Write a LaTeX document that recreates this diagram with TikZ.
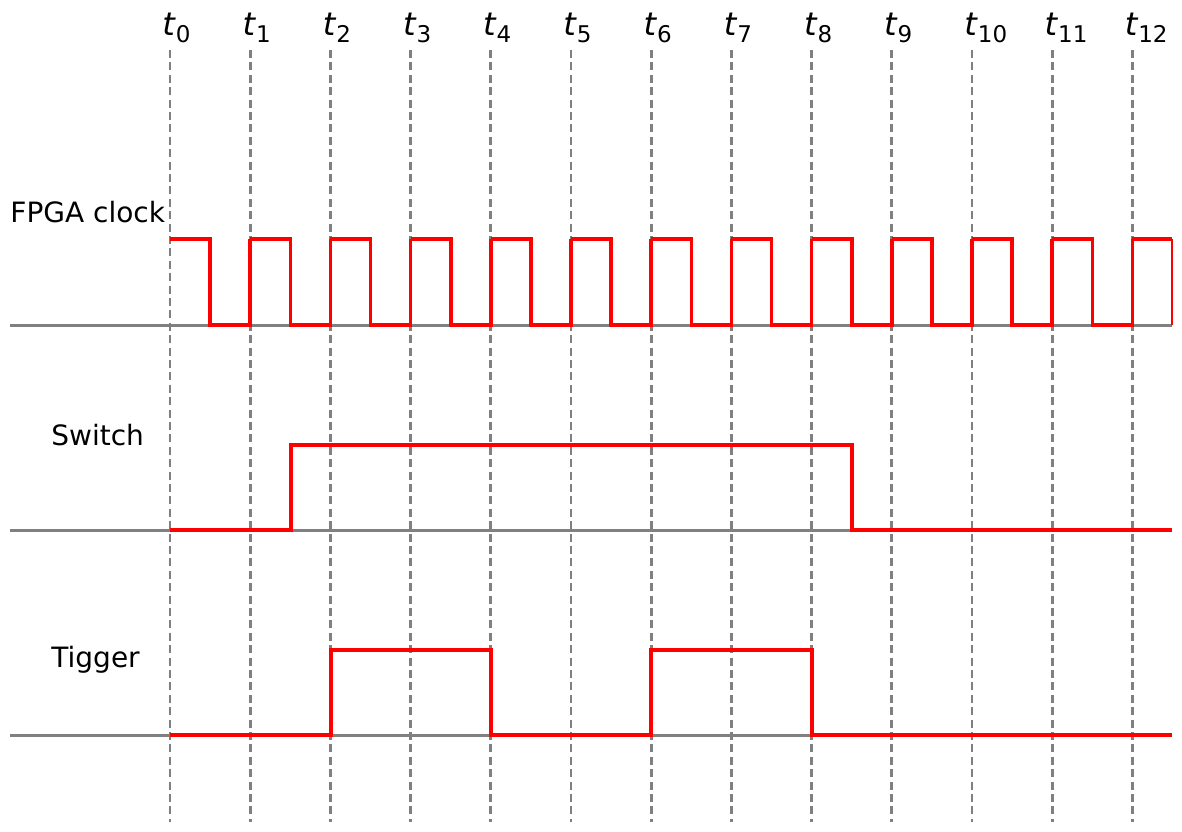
\documentclass[tikz,border=0pt]{standalone}
\usepackage{fontspec}
\setmainfont{DejaVu Sans}
\usetikzlibrary{positioning}
\definecolor{gridcol}{RGB}{128,128,128}
\definecolor{sigcol}{RGB}{255,0,0}

\begin{document}
\begin{tikzpicture}[
    x=0.5pt, y=-0.5pt,
    tick/.style={draw=gridcol, line width=1.4pt, dash pattern=on 4pt off 2.2pt},
    baseline line/.style={draw=gridcol, line width=1.5pt},
    signal/.style={draw=sigcol, line width=1.8pt, line join=miter},
    lbl/.style={inner sep=0pt, font=\fontsize{14}{17}\selectfont},
]
\useasboundingbox (0,0) rectangle (1182,831);

% time markers
\foreach \i in {0,...,12}{
    \pgfmathsetmacro{\xx}{170+80.2*\i}
    \draw[tick] (\xx,50) -- (\xx,822);
    \node[lbl, anchor=base west] (t\i) at (\xx-8,35) {\fontsize{16}{19}\selectfont\textit{t}\raisebox{-0.4ex}{\fontsize{11.5}{13}\selectfont\i}};
}

% baselines
\draw[baseline line] (10,325) -- (1172,325);
\draw[baseline line] (10,530) -- (1172,530);
\draw[baseline line] (10,735) -- (1172,735);

% FPGA clock
\foreach \i in {0,...,11}{
    \pgfmathsetmacro{\xa}{170+80.2*\i}
    \pgfmathsetmacro{\xb}{\xa+40.1}
    \pgfmathsetmacro{\xc}{\xa+80.2}
    \draw[signal] (\xa,239) -- (\xb,239) -- (\xb,325) -- (\xc,325) -- (\xc,239);
}
\draw[signal] (1132.4,239) -- (1172,239);
\draw[sigcol, line width=0.7pt] (1172,239) -- (1172,325);

% Switch
\draw[signal] (170,530) -- (291,530) -- (291,445) -- (852,445) -- (852,530) -- (1172,530);

% Tigger
\draw[signal] (170,735) -- (331,735) -- (331,650) -- (491,650) -- (491,735)
    -- (651,735) -- (651,650) -- (812,650) -- (812,735) -- (1172,735);

% signal names
\node[lbl, anchor=base west] (clk) at (10,222) {FPGA clock};
\node[lbl, anchor=base west] (sw) at (51,445) {Switch};
\node[lbl, anchor=base west] (trg) at (51,667) {Tigger};
\end{tikzpicture}
\end{document}
